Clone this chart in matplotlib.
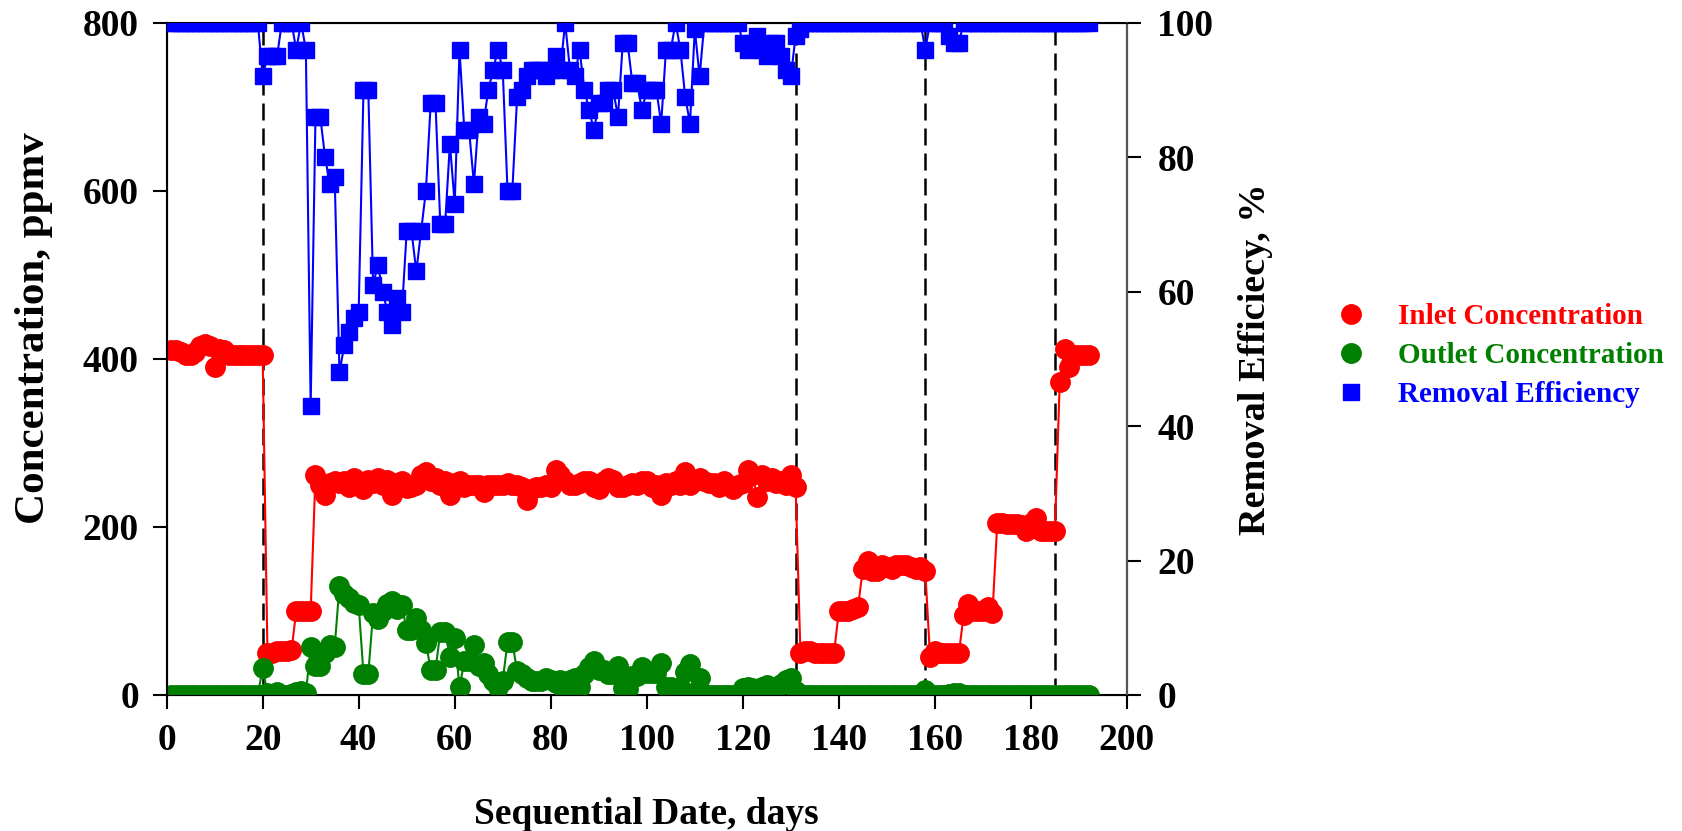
import numpy as np
import matplotlib.pyplot as plt
from matplotlib.lines import Line2D

plt.rcParams['font.family'] = 'Liberation Serif'
plt.rcParams['font.weight'] = 'bold'

# days of operation
days = np.arange(1, 193)

# inlet concentration, ppmv
inlet = [410, 410, 408, 405, 405, 408, 415, 418, 415, 390, 412, 410, 405, 405, 405, 405, 405, 405, 405, 405,
         50, 50, 52, 52, 52, 53,
         100, 100, 100, 100,
         262, 250, 238, 252, 255, 252, 255, 248, 258, 250, 245, 256, 252, 258, 250, 256, 238, 252, 255, 246,
         248, 250, 262, 265, 255, 258, 250, 255, 238, 252, 255, 248, 250, 250, 250, 242, 250, 250, 250, 250,
         252, 250, 250, 248, 232, 245, 248, 248, 250, 248, 268, 262, 255, 250, 250, 252, 255, 255, 248, 245,
         255, 258, 256, 248, 248, 250, 252, 250, 255, 255, 248, 250, 238, 252, 250, 255, 250, 265, 250, 255,
         258, 255, 252, 252, 248, 255, 250, 245, 250, 252, 268, 262, 236, 262, 255, 258, 252, 255, 250, 262,
         248,
         50, 52, 52, 50, 50, 50, 50, 50,
         100, 100, 100, 102, 105,
         150, 160, 148, 148, 155, 152, 150, 155, 155, 155, 152, 150, 152, 148,
         45, 52, 50, 50, 50, 50, 50,
         95, 108, 100, 100, 100, 105, 98,
         205, 205, 203, 203, 203, 202, 195, 205, 210, 195, 195, 195, 195,
         372, 412, 390, 405, 405, 405, 405]

# outlet concentration, ppmv
outlet = [0] * 19 + [
    32, 2, 0, 3, 0, 0, 1, 4, 5, 2,
    57, 35, 35, 50, 60, 57, 130, 120, 115, 110,
    107, 25, 25, 98, 90, 100, 108, 112, 102, 107,
    77, 77, 92, 77, 62, 30, 30, 75, 75, 45,
    68, 9, 40, 40, 60, 35, 38, 25, 17, 10,
    17, 63, 63, 28, 25, 20, 17, 17, 17, 20,
    18, 14, 18, 1, 18, 20, 10, 25, 33, 40,
    30, 30, 25, 25, 35, 8, 7, 22, 22, 33,
    26, 26, 26, 38, 10, 10, 1, 10, 27, 37,
    3, 20, 1, 0, 0, 0, 0, 0, 0, 0,
    8, 10, 8, 5, 10, 12, 8, 8, 13, 18,
    20, 5] + [0] * 26 + [6] + [0] * 4 + [1, 2, 2] + [0] * 27

# removal efficiency, %
removal = [100] * 19 + [
    92, 95, 95, 95, 100, 100, 100, 96, 100, 96,
    43, 86, 86, 80, 76, 77, 48, 52, 54, 56,
    57, 90, 90, 61, 64, 60, 57, 55, 59, 57,
    69, 69, 63, 69, 75, 88, 88, 70, 70, 82,
    73, 96, 84, 84, 76, 86, 85, 90, 93, 96,
    93, 75, 75, 89, 90, 92, 93, 93, 93, 92,
    93, 95, 93, 100, 93, 92, 96, 90, 87, 84,
    88, 88, 90, 90, 86, 97, 97, 91, 91, 87,
    90, 90, 90, 85, 96, 96, 100, 96, 89, 85,
    99, 92, 100, 100, 100, 100, 100, 100, 100, 100,
    97, 96, 97, 98, 96, 95, 97, 97, 95, 93,
    92, 98] + [99] + [100] * 25 + [96] + [100] * 4 + [98, 97, 97] + [100] * 27

# stage changes
stage_days = [20, 131, 158, 185]

fig = plt.figure(figsize=(16.83, 8.31), dpi=100)
ax = fig.add_axes([0.099, 0.1637, 0.5706, 0.809])
ax2 = ax.twinx()

ax.plot(days, inlet, '-o', color='red', lw=1.5, ms=14, mec='red', zorder=3)
ax.plot(days, outlet, '-o', color='green', lw=1.5, ms=14, mec='green', zorder=3)
ax2.plot(days, removal, '-s', color='blue', lw=1.5, ms=11, mec='blue', zorder=3)

for d in stage_days:
    ax.axvline(d, color='black', ls=(0, (6.8, 3.2)), lw=1.8, zorder=2)

ax.set_xlim(0, 200)
ax.set_ylim(0, 800)
ax2.set_ylim(0, 100)
ax.set_xticks(np.arange(0, 201, 20))
ax.set_yticks(np.arange(0, 801, 200))
ax2.set_yticks(np.arange(0, 101, 20))

ax.tick_params(axis='both', direction='out', length=10, width=1.5, labelsize=27)
ax.tick_params(axis='y', pad=10)
ax.tick_params(axis='x', pad=10)
ax2.tick_params(axis='y', direction='out', length=10, width=1.5, labelsize=27, pad=12)
for sp in ax.spines.values():
    sp.set_linewidth(1.5)
ax2.spines['right'].set_color('#555555')
ax2.spines['right'].set_linewidth(1.5)

ax.set_xlabel('Sequential Date, days', fontsize=27, fontweight='bold', labelpad=28)
ax.set_ylabel('Concentration, ppmv', fontsize=31, fontweight='bold')
ax.yaxis.set_label_coords(-0.118, 0.545)
ax2.set_ylabel('Removal Efficiecy, %', fontsize=27.5, fontweight='bold', labelpad=18)

handles = [Line2D([], [], ls='none', marker='o', color='red', ms=14),
           Line2D([], [], ls='none', marker='o', color='green', ms=14),
           Line2D([], [], ls='none', marker='s', color='blue', ms=11)]
labels = ['Inlet Concentration', 'Outlet Concentration', 'Removal Efficiency']
leg = fig.legend(handles, labels, loc='upper left', bbox_to_anchor=(0.77, 0.667),
                 frameon=False, fontsize=21, handletextpad=0.6, labelspacing=0.42,
                 labelcolor=['red', 'green', 'blue'])

fig.savefig('out.png', dpi=100)
